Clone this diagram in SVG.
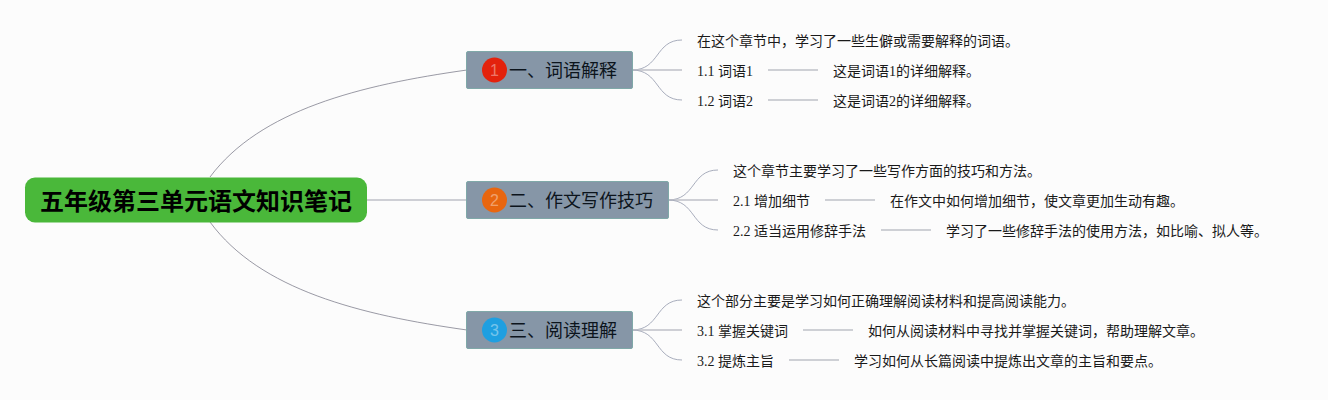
<svg xmlns="http://www.w3.org/2000/svg" width="1328" height="400" viewBox="0 0 1328 400">
<style>
text{font-family:"Liberation Serif","Noto Sans CJK SC",serif;fill:#1a1a1a}
.leaf{font-size:14px}
.branch{fill:#8696a7;stroke:#7fa8a8;stroke-width:1}
.btext{font-size:18px;fill:#0c141c;font-family:"Noto Sans CJK SC",sans-serif}
.num{font-size:16px;fill-opacity:.4;fill:#fff;text-anchor:middle;font-family:"Liberation Sans",sans-serif}
.c1{fill:none;stroke:#80808e;stroke-width:.8}
.c2{fill:none;stroke:#a8adbc;stroke-width:1}
.c3{fill:none;stroke:#bfc1c8;stroke-width:1.5}
</style>
<rect width="1328" height="400" fill="#fcfcfc"/>
<g id="connectors">
<path class="c1" d="M210 177C260 110 360 85 467 70"/>
<path class="c1" d="M210 222C260 290 360 315 467 330"/>
<path class="c3" d="M367 200H467"/>
<path class="c2" d="M632 70C660 70 655 40 682 40"/>
<path class="c3" d="M632 70H682"/>
<path class="c2" d="M632 70C660 70 655 100 682 100"/>
<path class="c3" d="M768 70H818M768 100H818"/>
<path class="c2" d="M668 200C696 200 691 170 718 170"/>
<path class="c3" d="M668 200H718"/>
<path class="c2" d="M668 200C696 200 691 230 718 230"/>
<path class="c3" d="M825 200H875M881 230H931"/>
<path class="c2" d="M632 330C660 330 655 300 682 300"/>
<path class="c3" d="M632 330H682"/>
<path class="c2" d="M632 330C660 330 655 360 682 360"/>
<path class="c3" d="M803 330H853M789 360H839"/>
</g>
<g id="root">
<rect x="25" y="177.500" width="342" height="45" rx="10" fill="#4ab83a"/>
<text x="196" y="210" text-anchor="middle" style="font-family:'Noto Sans CJK SC',sans-serif;font-size:24px;font-weight:700;fill:#000">五年级第三单元语文知识笔记</text>
</g>
<g id="branch1">
<rect class="branch" x="466.500" y="51.500" width="166" height="37" rx="1.500"/>
<circle cx="494.500" cy="70" r="12.500" fill="#e3220c"/>
<text class="num" x="494.500" y="76">1</text>
<text class="btext" x="509" y="77">一、词语解释</text>
</g>
<g id="branch2">
<rect class="branch" x="466.500" y="181.500" width="202" height="37" rx="1.500"/>
<circle cx="494.500" cy="200" r="12.500" fill="#e8660f"/>
<text class="num" x="494.500" y="206">2</text>
<text class="btext" x="509" y="207">二、作文写作技巧</text>
</g>
<g id="branch3">
<rect class="branch" x="466.500" y="311.500" width="166" height="37" rx="1.500"/>
<circle cx="494.500" cy="330" r="12.500" fill="#1f9fe0"/>
<text class="num" x="494.500" y="336">3</text>
<text class="btext" x="509" y="337">三、阅读理解</text>
</g>
<g id="leaf1-0"><text class="leaf" x="697" y="46">在这个章节中，学习了一些生僻或需要解释的词语。</text></g>
<g id="leaf1-1"><text class="leaf" x="697" y="76">1.1 词语1</text></g>
<g id="leaf1-1-1"><text class="leaf" x="833" y="76">这是词语1的详细解释。</text></g>
<g id="leaf1-2"><text class="leaf" x="697" y="106">1.2 词语2</text></g>
<g id="leaf1-2-1"><text class="leaf" x="833" y="106">这是词语2的详细解释。</text></g>
<g id="leaf2-0"><text class="leaf" x="733" y="176">这个章节主要学习了一些写作方面的技巧和方法。</text></g>
<g id="leaf2-1"><text class="leaf" x="733" y="206">2.1 增加细节</text></g>
<g id="leaf2-1-1"><text class="leaf" x="890" y="206">在作文中如何增加细节，使文章更加生动有趣。</text></g>
<g id="leaf2-2"><text class="leaf" x="733" y="236">2.2 适当运用修辞手法</text></g>
<g id="leaf2-2-1"><text class="leaf" x="946" y="236">学习了一些修辞手法的使用方法，如比喻、拟人等。</text></g>
<g id="leaf3-0"><text class="leaf" x="697" y="306">这个部分主要是学习如何正确理解阅读材料和提高阅读能力。</text></g>
<g id="leaf3-1"><text class="leaf" x="697" y="336">3.1 掌握关键词</text></g>
<g id="leaf3-1-1"><text class="leaf" x="868" y="336">如何从阅读材料中寻找并掌握关键词，帮助理解文章。</text></g>
<g id="leaf3-2"><text class="leaf" x="697" y="366">3.2 提炼主旨</text></g>
<g id="leaf3-2-1"><text class="leaf" x="854" y="366">学习如何从长篇阅读中提炼出文章的主旨和要点。</text></g>
</svg>
